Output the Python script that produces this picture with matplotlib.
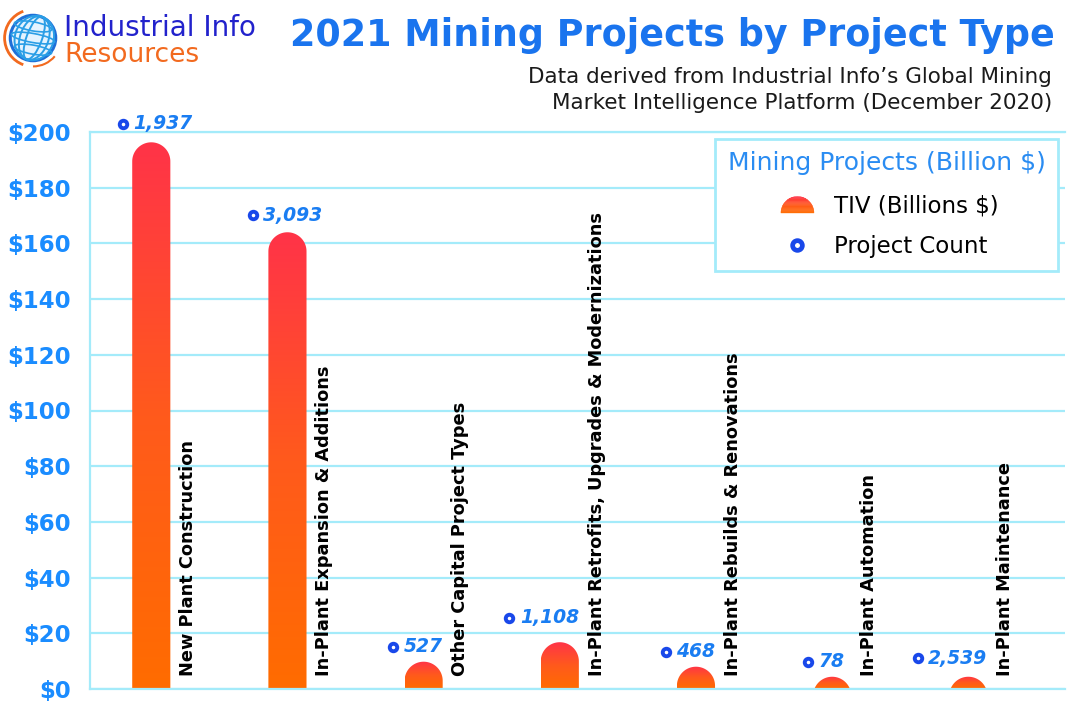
import numpy as np
import matplotlib
matplotlib.use('Agg')
import matplotlib.pyplot as plt
from matplotlib.patches import Polygon, Circle, Arc, Ellipse
from matplotlib.legend_handler import HandlerBase
from matplotlib.lines import Line2D
from matplotlib.colors import LinearSegmentedColormap

# ---------------- data ----------------
categories = [
    "New Plant Construction",
    "In-Plant Expansion & Additions",
    "Other Capital Project Types",
    "In-Plant Retrofits, Upgrades & Modernizations",
    "In-Plant Rebuilds & Renovations",
    "In-Plant Automation",
    "In-Plant Maintenance",
]
tiv_billions = [196.3, 164.0, 9.8, 16.8, 8.0, 4.4, 4.4]
project_counts = [1937, 3093, 527, 1108, 468, 78, 2539]
y_ticks = [0, 20, 40, 60, 80, 100, 120, 140, 160, 180, 200]
y_tick_labels = ["$0", "$20", "$40", "$60", "$80", "$100", "$120", "$140",
                 "$160", "$180", "$200"]

# ---------------- style / layout ----------------
TITLE_BLUE = '#1a74ee'
TICK_BLUE = '#1a8cff'
COUNT_BLUE = '#1a7df2'
LEG_BLUE = '#2a8cf2'
GRID = '#a4ebfa'
MARK_BLUE = '#1948ea'
RED_TOP = '#ff3348'
ORANGE_BOT = '#ff6c00'
# label placement tweaks (pixels / data units), purely layout
count_dx_px = [22, 16, 0, 0, 0, -7, 0]
count_dy = [6.6, 6.1, 5.3, 8.7, 5.4, 5.4, 6.7]

W, H = 1080, 708
fig = plt.figure(figsize=(W / 100, H / 100), dpi=100)
fig.patch.set_facecolor('white')

ax_l, ax_r, ax_t, ax_b = 90, 1065, 132, 689
ax = fig.add_axes([ax_l / W, (H - ax_b) / H, (ax_r - ax_l) / W, (ax_b - ax_t) / H])
x = np.arange(len(categories))
ax.set_xlim(-0.45, 6.71)
ax.set_ylim(0, 200)
ax.set_yticks(y_ticks)
ax.set_yticklabels(y_tick_labels, fontsize=16.5, fontweight='bold', color=TICK_BLUE)
ax.tick_params(axis='y', length=0, pad=14)
ax.set_xticks([])
ax.grid(axis='y', color=GRID, lw=1.6)
ax.set_axisbelow(True)
ax.spines['right'].set_visible(False)
for s in ['left', 'top', 'bottom']:
    ax.spines[s].set_color(GRID)
    ax.spines[s].set_linewidth(1.6)

# ---------------- bars with rounded tops + gradient ----------------
bar_w = 0.28
rx = bar_w / 2
ax_w_px = ax_r - ax_l
ax_h_px = ax_b - ax_t
xr = ax.get_xlim()[1] - ax.get_xlim()[0]
yr = ax.get_ylim()[1] - ax.get_ylim()[0]
ry = rx * (ax_w_px / xr) / (ax_h_px / yr)

cmap = LinearSegmentedColormap.from_list('tiv', [ORANGE_BOT, '#ff5a1c', RED_TOP])
grad = np.linspace(0, 1, 256).reshape(-1, 1)
t = np.linspace(0, np.pi, 80)
for xi, h in zip(x, tiv_billions):
    yb = h - ry
    xs = xi + rx * np.cos(t)
    ys = np.maximum(yb + ry * np.sin(t), 0)
    verts = [(xi + rx, 0)] + list(zip(xs, ys)) + [(xi - rx, 0)]
    poly = Polygon(verts, closed=True, facecolor='none', edgecolor='none')
    ax.add_patch(poly)
    im = ax.imshow(grad, origin='lower', extent=[xi - rx, xi + rx, 0, h],
                   aspect='auto', cmap=cmap, zorder=2)
    im.set_clip_path(poly)

ax.set_xlim(-0.45, 6.71)
ax.set_ylim(0, 200)

# ---------------- category labels ----------------
for xi, cat in zip(x, categories):
    ax.text(xi + 0.27, 4.5, cat, rotation=90, ha='center', va='bottom',
            fontsize=12.8, fontweight='bold', color='black', zorder=3)

# ---------------- project count labels + markers ----------------
count_texts = []
for xi, h, n, dx, dy in zip(x, tiv_billions, project_counts, count_dx_px, count_dy):
    tx = ax.annotate(f"{n:,}", xy=(xi + rx, h + dy), xytext=(dx * 0.72, 0),
                     textcoords='offset points', ha='right', va='center',
                     fontsize=13.5, fontweight='bold', style='italic',
                     color=COUNT_BLUE, annotation_clip=False, zorder=4)
    count_texts.append(tx)

fig.canvas.draw()
renderer = fig.canvas.get_renderer()
inv = ax.transData.inverted()
for tx, h, dy in zip(count_texts, tiv_billions, count_dy):
    bb = tx.get_window_extent(renderer)
    mx, _ = inv.transform((bb.x0 - 10.5, 0))
    ax.plot([mx], [h + dy], marker='o', ms=5.4, mew=2.8, mfc='white',
            mec=MARK_BLUE, clip_on=False, zorder=5, linestyle='none')

# ---------------- legend ----------------
class HandlerDome(HandlerBase):
    def create_artists(self, legend, orig_handle, xdescent, ydescent,
                       width, height, fontsize, trans):
        r = 0.72 * fontsize
        cx = width / 2 - xdescent
        cy = -ydescent + height / 2 - r / 2
        arts = []
        n = 14
        for i in range(n):
            y0, y1 = i * r / n, (i + 1) * r / n
            yy = np.linspace(y0, y1, 6)
            ww = np.sqrt(np.maximum(r ** 2 - yy ** 2, 0))
            pts = [(cx + w_, cy + y_) for w_, y_ in zip(ww, yy)] + \
                  [(cx - w_, cy + y_) for w_, y_ in zip(ww[::-1], yy[::-1])]
            col = cmap((i + 0.5) / n)
            p = Polygon(pts, closed=True, facecolor=col, edgecolor=col, lw=0.3,
                        transform=trans)
            arts.append(p)
        return arts

dome_handle = object()
marker_handle = Line2D([], [], marker='o', ms=7, mew=3.4, mfc='white',
                       mec=MARK_BLUE, linestyle='none')
leg = ax.legend([dome_handle, marker_handle], ["TIV (Billions $)", "Project Count"],
                handler_map={type(dome_handle): HandlerDome()},
                loc='upper right', bbox_to_anchor=(0.993, 0.988),
                borderaxespad=0, fontsize=16.5, title="Mining Projects (Billion $)",
                title_fontsize=18, frameon=True, fancybox=False, framealpha=1,
                edgecolor=GRID, handlelength=2.0, handletextpad=0.6,
                labelspacing=0.75, borderpad=0.55)
leg.get_frame().set_linewidth(2)
leg.get_title().set_color(LEG_BLUE)
leg._legend_box.sep = 14
leg.set_zorder(10)

# ---------------- titles ----------------
fig.text(1055 / W, 1 - 35 / H, "2021 Mining Projects by Project Type",
         ha='right', va='center', fontsize=26.3, fontweight='bold', color=TITLE_BLUE)
fig.text(1052 / W, 1 - 77 / H, "Data derived from Industrial Info\u2019s Global Mining",
         ha='right', va='center', fontsize=15.5, color='#1a1a1a')
fig.text(1052 / W, 1 - 103 / H, "Market Intelligence Platform (December 2020)",
         ha='right', va='center', fontsize=15.5, color='#1a1a1a')

# ---------------- logo ----------------
fig.text(64 / W, 1 - 28 / H, "Industrial Info", ha='left', va='center',
         fontsize=20, color='#2222cc')
fig.text(64 / W, 1 - 55 / H, "Resources", ha='left', va='center',
         fontsize=19, color='#f26a1f')
lax = fig.add_axes([2 / W, 1 - 70 / H, 62 / W, 64 / H])
lax.set_xlim(-1.2, 1.2)
lax.set_ylim(-1.2, 1.2)
lax.set_aspect('equal')
lax.axis('off')
lax.add_patch(Circle((0, 0), 0.88, facecolor='#e4f3ff', edgecolor='#1f6fd8', lw=2.2))
for wdt in [0.6, 1.1, 1.5]:
    lax.add_patch(Ellipse((0.05, 0), wdt, 1.75, facecolor='none',
                          edgecolor='#2a9ee6', lw=1.4, angle=-20))
for hh in [-0.45, 0.0, 0.45]:
    lax.add_patch(Ellipse((0, hh), 1.7 * np.sqrt(1 - (hh / 0.88) ** 2), 0.35,
                          facecolor='none', edgecolor='#2a9ee6', lw=1.2, angle=-10))
lax.add_patch(Arc((0, 0), 2.2, 2.2, theta1=110, theta2=250, color='#f26a1f', lw=2))
lax.add_patch(Arc((0, 0), 2.2, 2.2, theta1=270, theta2=320, color='#f26a1f', lw=1.5))

fig.savefig('out.png', dpi=100, facecolor='white')
